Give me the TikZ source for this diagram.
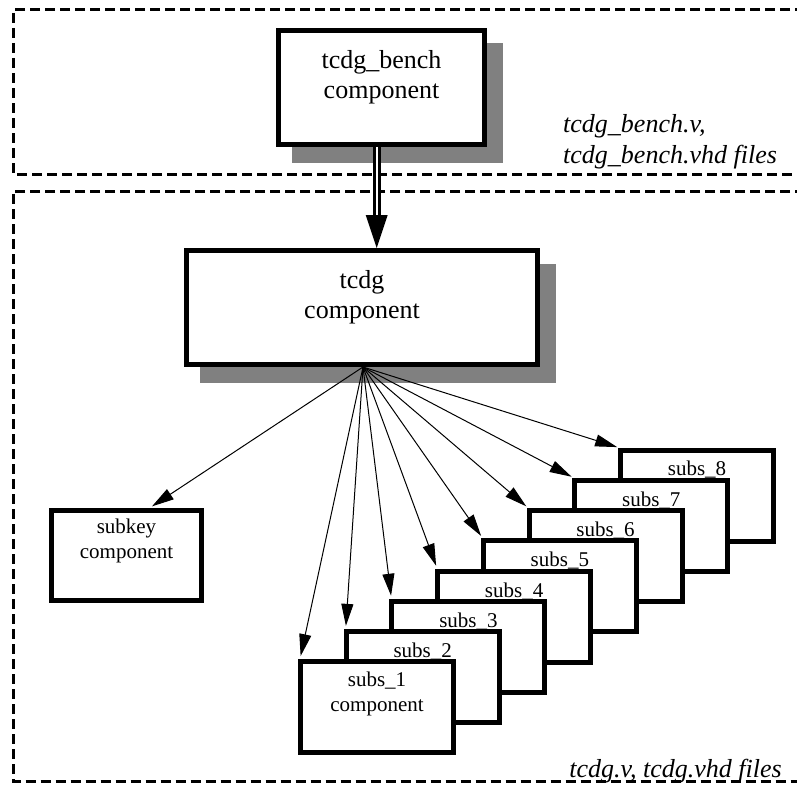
\documentclass[tikz,border=0pt]{standalone}
\usepackage{fontspec}
\setmainfont{Liberation Serif}
\usetikzlibrary{arrows.meta,calc,backgrounds}
\definecolor{shadowgray}{HTML}{808080}
\begin{document}
\begin{tikzpicture}[x=1pt,y=-1pt,
  compbox/.style={draw=black, line width=5pt, fill=white, inner sep=0pt},
  bigbox/.style={compbox, minimum width=#1, minimum height=114pt},
  smallbox/.style={compbox, minimum width=#1, minimum height=90pt},
  subsbox/.style={compbox, minimum width=153pt, minimum height=91pt},
  bigtext/.style={font=\fontsize{26}{30}\selectfont, inner sep=0pt, anchor=base},
  smalltext/.style={font=\fontsize{21}{25.5}\selectfont, inner sep=0pt, anchor=base},
  filetext/.style={font=\fontsize{26}{31}\selectfont\itshape, inner sep=0pt},
  dashframe/.style={line width=3pt, dash pattern=on 10pt off 5pt},
  shadowfill/.style={fill=shadowgray},
  fanarrow/.style={line width=1pt, -{Triangle[length=22pt,width=12pt]}, shorten >=3pt},
  dblline/.style={line width=3pt, double=white, double distance=2pt},
]
\useasboundingbox (0,0) rectangle (797,784);
\clip (0,0) rectangle (797,784);

% main component boxes
\node[bigbox=206pt] (bench) at (381.5,87.5) {};
\node[bigtext] (benchtext) at ($(bench.north)+(0,40)$)
  {\begin{tabular}[t]{@{}c@{}}tcdg\_bench\\component\end{tabular}};
\node[bigbox=351pt] (tcdg) at (362,307.5) {};
\node[bigtext] (tcdgtext) at ($(tcdg.north)+(0,40)$)
  {\begin{tabular}[t]{@{}c@{}}tcdg\\component\end{tabular}};
\node[smallbox=150pt] (subkey) at (126.5,555.5) {};
\node[smalltext] (subkeytext) at ($(subkey.north)+(0,25)$)
  {\begin{tabular}[t]{@{}c@{}}subkey\\component\end{tabular}};

% stacked subs boxes, back to front
\foreach \k/\dy in {8/27,7/28.5,6/28.5,5/28.5,4/28.5,3/28.5,2/28.5,1/27} {
  \node[subsbox] (s\k) at ({377+45.714*(\k-1)},{707-30.143*(\k-1)}) {};
  \ifnum\k=1
    \node[smalltext] (st\k) at ($(s\k.north)+(0,\dy)$)
      {\begin{tabular}[t]{@{}c@{}}subs\_1\\component\end{tabular}};
  \else
    \node[smalltext] (st\k) at ($(s\k.north)+(0,\dy)$) {subs\_\k};
  \fi
}

% file labels
\node[filetext, anchor=base west] (benchfiles) at (563,132)
  {\begin{tabular}[t]{@{}l@{}}tcdg\_bench.v,\\tcdg\_bench.vhd files\end{tabular}};
\node[filetext, anchor=base east] (tcdgfiles) at (782,777) {tcdg.v, tcdg.vhd files};

% background: dashed frames and shadows
\begin{scope}[on background layer]
  \draw[dashframe] (820,10) -- (13,10) -- (13,174) -- (820,174);
  \draw[dashframe] (820,191) -- (13,191) -- (13,781.5) -- (820,781.5);
  \fill[shadowfill] ($(bench.north west)+(16,15)$) rectangle ($(bench.south east)+(16,16)$);
  \fill[shadowfill] ($(tcdg.north west)+(16,16)$) rectangle ($(tcdg.south east)+(16,16)$);
\end{scope}

% double arrow bench -> tcdg
\coordinate (dtop) at ([xshift=-4.8pt]bench.south);
\coordinate (dtip) at (dtop |- tcdg.north);
\draw[dblline] (dtop) -- ([yshift=32pt]dtip);
\fill (dtip) -- ++(-11,-33) -- ++(22,0) -- cycle;

% fan of arrows
\coordinate (fan) at ([xshift=1pt]tcdg.south);
\draw[fanarrow] (fan) -- ([xshift=23pt]subkey.north);
\foreach \k in {1,...,8} {
  \draw[fanarrow] (fan) -- ([xshift=2pt]s\k.north west);
}
\end{tikzpicture}
\end{document}
